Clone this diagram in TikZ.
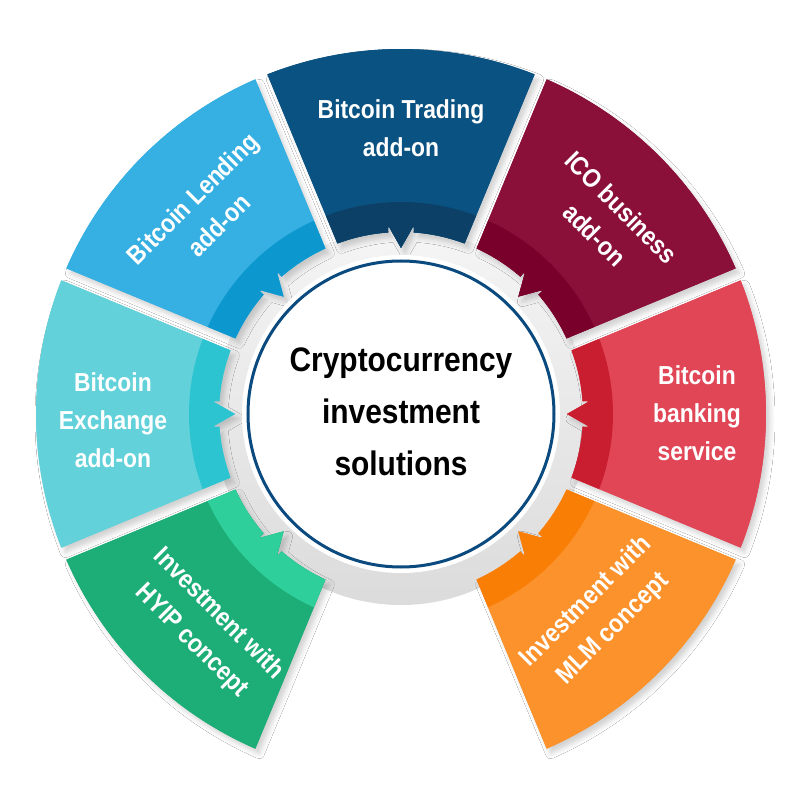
\documentclass[tikz,border=0pt]{standalone}
\usepackage{fontspec}
\setmainfont{Liberation Sans}[FakeStretch=0.88]
\usetikzlibrary{shadows.blur}
\definecolor{lendA}{HTML}{36B0E2}\definecolor{lendB}{HTML}{0C98CF}
\definecolor{tradA}{HTML}{0A5282}\definecolor{tradB}{HTML}{0D4066}
\definecolor{icoA}{HTML}{8A103A}\definecolor{icoB}{HTML}{78002B}
\definecolor{bankA}{HTML}{E14656}\definecolor{bankB}{HTML}{C91E30}
\definecolor{mlmA}{HTML}{FB922C}\definecolor{mlmB}{HTML}{F97E06}
\definecolor{hyipA}{HTML}{1DAE78}\definecolor{hyipB}{HTML}{2FCF9B}
\definecolor{exchA}{HTML}{62D1DA}\definecolor{exchB}{HTML}{2CC4D1}
\definecolor{ringblue}{HTML}{0B4A7E}
\def\gap{6.5}\def\rin{182}\def\rout{365}\def\rband{212}\def\rtip{166}
\newcommand\segfill[4]{%
  \pgfmathsetmacro\sA{#1+asin(\gap/#3)}%
  \pgfmathsetmacro\sB{#2-asin(\gap/#3)}%
  \pgfmathsetmacro\iA{#1+asin(\gap/\rin)}%
  \pgfmathsetmacro\iB{#2-asin(\gap/\rin)}%
  \pgfmathsetmacro\mA{(#1+#2)/2}%
  \fill[#4] (\sA:#3) arc[start angle=\sA, end angle=\sB, radius=#3]
    -- (\iB:\rin) arc[start angle=\iB, end angle=\mA+4, radius=\rin]
    -- ({\mA+4}:{\rin+5}) -- ({\mA+3.6}:{\rin+5}) -- (\mA:\rtip)
    -- ({\mA-3.6}:{\rin+5}) -- ({\mA-4}:{\rin+5}) -- ({\mA-4}:\rin)
    arc[start angle=\mA-4, end angle=\iA, radius=\rin] -- cycle;}
\tikzset{
  segshadow/.style={blur shadow={shadow xshift=4pt, shadow yshift=-5pt,
      shadow blur radius=5pt, shadow opacity=18}},
  seglabel/.style={text=white, align=center,
      font=\fontsize{26}{38}\selectfont\bfseries, inner sep=0pt},
  centerlabel/.style={text=black, align=center,
      font=\fontsize{34}{52}\selectfont\bfseries, inner sep=0pt}
}
\begin{document}
\begin{tikzpicture}[x=1pt,y=1pt]
\useasboundingbox[fill=white] (-401,-386) rectangle (399,414);
% gray ring behind
\shade[top color=black!4, bottom color=black!14] (0,-3) circle[radius=188];
% shadows + main fills
\foreach \a/\b/\c in {112.5/157.5/lendA, 67.5/112.5/tradA, 22.5/67.5/icoA,
    -22.5/22.5/bankA, -67.5/-22.5/mlmA, 202.5/247.5/hyipA, 157.5/202.5/exchA}{
  \segfill{\a}{\b}{\rout}{segshadow, fill=\c}
}
\foreach \a/\b/\c in {112.5/157.5/lendA, 67.5/112.5/tradA, 22.5/67.5/icoA,
    -22.5/22.5/bankA, -67.5/-22.5/mlmA, 202.5/247.5/hyipA, 157.5/202.5/exchA}{
  \segfill{\a}{\b}{\rout}{fill=\c}
}
\foreach \a/\b/\c in {112.5/157.5/lendB, 67.5/112.5/tradB, 22.5/67.5/icoB,
    -22.5/22.5/bankB, -67.5/-22.5/mlmB, 202.5/247.5/hyipB, 157.5/202.5/exchB}{
  \segfill{\a}{\b}{\rband}{fill=\c}
}
% centre circle
\fill[white] (0,0) circle[radius=159];
\draw[ringblue, line width=3pt, fill=white] (0,0) circle[radius=153];
% labels
\node[centerlabel] (center) at (0,2) {Cryptocurrency\\investment\\solutions};
\node[seglabel] (trading) at (0,286) {Bitcoin Trading\\add-on};
\node[seglabel, rotate=-45] (ico) at (43:283) {ICO business\\add-on};
\node[seglabel] (banking) at (296,1) {Bitcoin\\banking\\service};
\node[seglabel, rotate=45] (mlm) at (-45.4:283) {Investment with\\MLM concept};
\node[seglabel, rotate=-45] (hyip) at (227.5:290) {Investment with\\HYIP concept};
\node[seglabel] (exchange) at (-288,-6) {Bitcoin\\Exchange\\add-on};
\node[seglabel, rotate=45] (lending) at (134:281) {Bitcoin Lending\\add-on};
\end{tikzpicture}
\end{document}
